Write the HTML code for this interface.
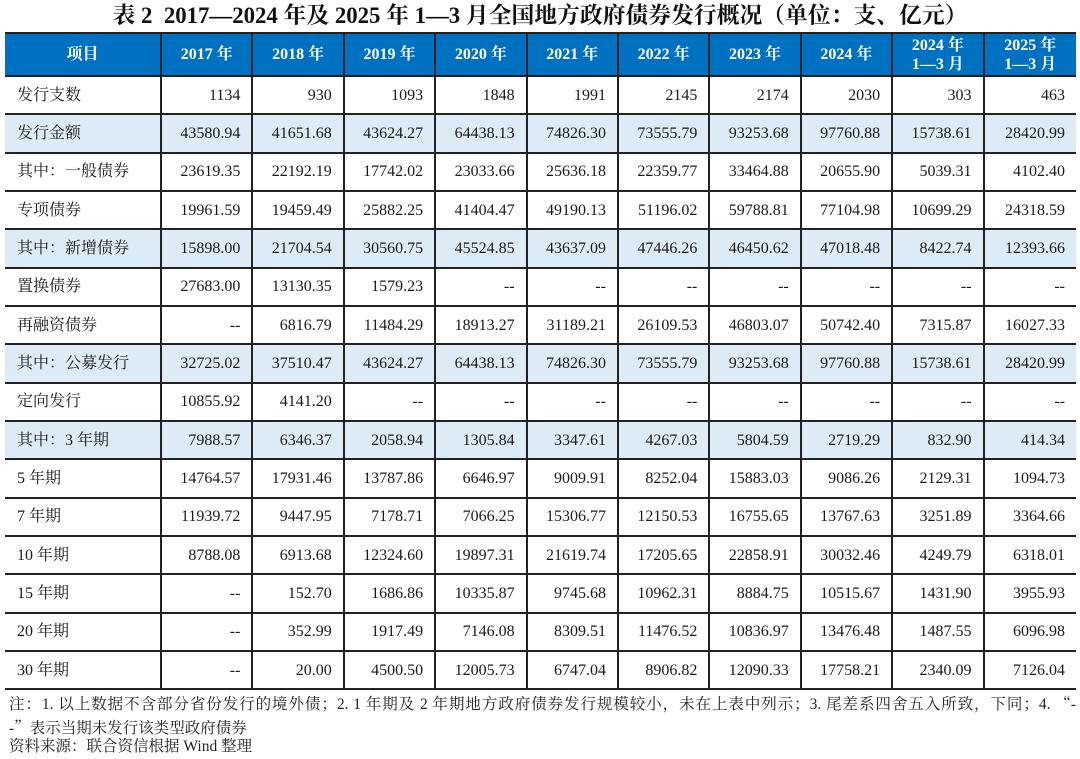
<!DOCTYPE html>
<html>
<head>
<meta charset="utf-8">
<style>
  html,body{margin:0;padding:0;background:#fff;}
  body{width:1080px;height:759px;position:relative;overflow:hidden;
       font-family:"Liberation Serif","Noto Serif CJK SC","Noto Sans CJK SC",serif;color:#1a1a1a;}
  .title{position:absolute;left:0;top:0;width:1080px;height:32px;line-height:32px;text-align:center;
         font-size:22.8px;font-weight:bold;color:#111;white-space:nowrap;}
  table{position:absolute;left:5px;top:32px;width:1071px;border-collapse:separate;border-spacing:0;
        table-layout:fixed;border-top:2px solid #222;}
  td,th{border-right:2px solid #222;border-bottom:2px solid #222;padding:0;box-sizing:border-box;
        font-size:16px;white-space:nowrap;overflow:hidden;}
  td:last-child,th:last-child{border-right:none;}
  th{background:#0070C0;color:#fff;font-weight:bold;text-align:center;line-height:19px;}
  thead tr{height:43px;}
  tbody tr{height:38.33px;}
  td{text-align:right;padding-right:11px;line-height:20px;padding-top:1px;}
  td.l{text-align:left;padding-left:12px;padding-right:0;}
  tr.b td{background:#DDEBF7;}
  .n{position:absolute;left:9px;width:1067px;font-size:15.5px;line-height:22px;color:#222;white-space:nowrap;}
  .j{text-align:justify;text-align-last:justify;}
  .q{font-family:"Noto Serif CJK SC",serif;}
</style>
</head>
<body>
<div class="title">表 2&nbsp; 2017—2024 年及 2025 年 1—3 月全国地方政府债券发行概况（单位：支、亿元）</div>
<table>
<colgroup>
<col style="width:157px">
<col style="width:91.4px"><col style="width:91.4px"><col style="width:91.4px"><col style="width:91.4px"><col style="width:91.4px">
<col style="width:91.4px"><col style="width:91.4px"><col style="width:91.4px"><col style="width:91.4px"><col style="width:91.4px">
</colgroup>
<thead>
<tr><th>项目</th><th>2017 年</th><th>2018 年</th><th>2019 年</th><th>2020 年</th><th>2021 年</th><th>2022 年</th><th>2023 年</th><th>2024 年</th><th>2024 年<br>1—3 月</th><th>2025 年<br>1—3 月</th></tr>
</thead>
<tbody>
<tr><td class="l">发行支数</td><td>1134</td><td>930</td><td>1093</td><td>1848</td><td>1991</td><td>2145</td><td>2174</td><td>2030</td><td>303</td><td>463</td></tr>
<tr class="b"><td class="l">发行金额</td><td>43580.94</td><td>41651.68</td><td>43624.27</td><td>64438.13</td><td>74826.30</td><td>73555.79</td><td>93253.68</td><td>97760.88</td><td>15738.61</td><td>28420.99</td></tr>
<tr><td class="l">其中：一般债券</td><td>23619.35</td><td>22192.19</td><td>17742.02</td><td>23033.66</td><td>25636.18</td><td>22359.77</td><td>33464.88</td><td>20655.90</td><td>5039.31</td><td>4102.40</td></tr>
<tr><td class="l">专项债券</td><td>19961.59</td><td>19459.49</td><td>25882.25</td><td>41404.47</td><td>49190.13</td><td>51196.02</td><td>59788.81</td><td>77104.98</td><td>10699.29</td><td>24318.59</td></tr>
<tr class="b"><td class="l">其中：新增债券</td><td>15898.00</td><td>21704.54</td><td>30560.75</td><td>45524.85</td><td>43637.09</td><td>47446.26</td><td>46450.62</td><td>47018.48</td><td>8422.74</td><td>12393.66</td></tr>
<tr><td class="l">置换债券</td><td>27683.00</td><td>13130.35</td><td>1579.23</td><td>--</td><td>--</td><td>--</td><td>--</td><td>--</td><td>--</td><td>--</td></tr>
<tr><td class="l">再融资债券</td><td>--</td><td>6816.79</td><td>11484.29</td><td>18913.27</td><td>31189.21</td><td>26109.53</td><td>46803.07</td><td>50742.40</td><td>7315.87</td><td>16027.33</td></tr>
<tr class="b"><td class="l">其中：公募发行</td><td>32725.02</td><td>37510.47</td><td>43624.27</td><td>64438.13</td><td>74826.30</td><td>73555.79</td><td>93253.68</td><td>97760.88</td><td>15738.61</td><td>28420.99</td></tr>
<tr><td class="l">定向发行</td><td>10855.92</td><td>4141.20</td><td>--</td><td>--</td><td>--</td><td>--</td><td>--</td><td>--</td><td>--</td><td>--</td></tr>
<tr class="b"><td class="l">其中：3 年期</td><td>7988.57</td><td>6346.37</td><td>2058.94</td><td>1305.84</td><td>3347.61</td><td>4267.03</td><td>5804.59</td><td>2719.29</td><td>832.90</td><td>414.34</td></tr>
<tr><td class="l">5 年期</td><td>14764.57</td><td>17931.46</td><td>13787.86</td><td>6646.97</td><td>9009.91</td><td>8252.04</td><td>15883.03</td><td>9086.26</td><td>2129.31</td><td>1094.73</td></tr>
<tr><td class="l">7 年期</td><td>11939.72</td><td>9447.95</td><td>7178.71</td><td>7066.25</td><td>15306.77</td><td>12150.53</td><td>16755.65</td><td>13767.63</td><td>3251.89</td><td>3364.66</td></tr>
<tr><td class="l">10 年期</td><td>8788.08</td><td>6913.68</td><td>12324.60</td><td>19897.31</td><td>21619.74</td><td>17205.65</td><td>22858.91</td><td>30032.46</td><td>4249.79</td><td>6318.01</td></tr>
<tr><td class="l">15 年期</td><td>--</td><td>152.70</td><td>1686.86</td><td>10335.87</td><td>9745.68</td><td>10962.31</td><td>8884.75</td><td>10515.67</td><td>1431.90</td><td>3955.93</td></tr>
<tr><td class="l">20 年期</td><td>--</td><td>352.99</td><td>1917.49</td><td>7146.08</td><td>8309.51</td><td>11476.52</td><td>10836.97</td><td>13476.48</td><td>1487.55</td><td>6096.98</td></tr>
<tr><td class="l">30 年期</td><td>--</td><td>20.00</td><td>4500.50</td><td>12005.73</td><td>6747.04</td><td>8906.82</td><td>12090.33</td><td>17758.21</td><td>2340.09</td><td>7126.04</td></tr>
</tbody>
</table>
<div class="n j" style="top:692px;">注：1. 以上数据不含部分省份发行的境外债；2. 1 年期及 2 年期地方政府债券发行规模较小，未在上表中列示；3. 尾差系四舍五入所致，下同；4. <span class="q">“</span>-</div>
<div class="n" style="top:716px;">-<span class="q">”</span>表示当期未发行该类型政府债券</div>
<div class="n" style="top:736px;">资料来源：联合资信根据 Wind 整理</div>
</body>
</html>
